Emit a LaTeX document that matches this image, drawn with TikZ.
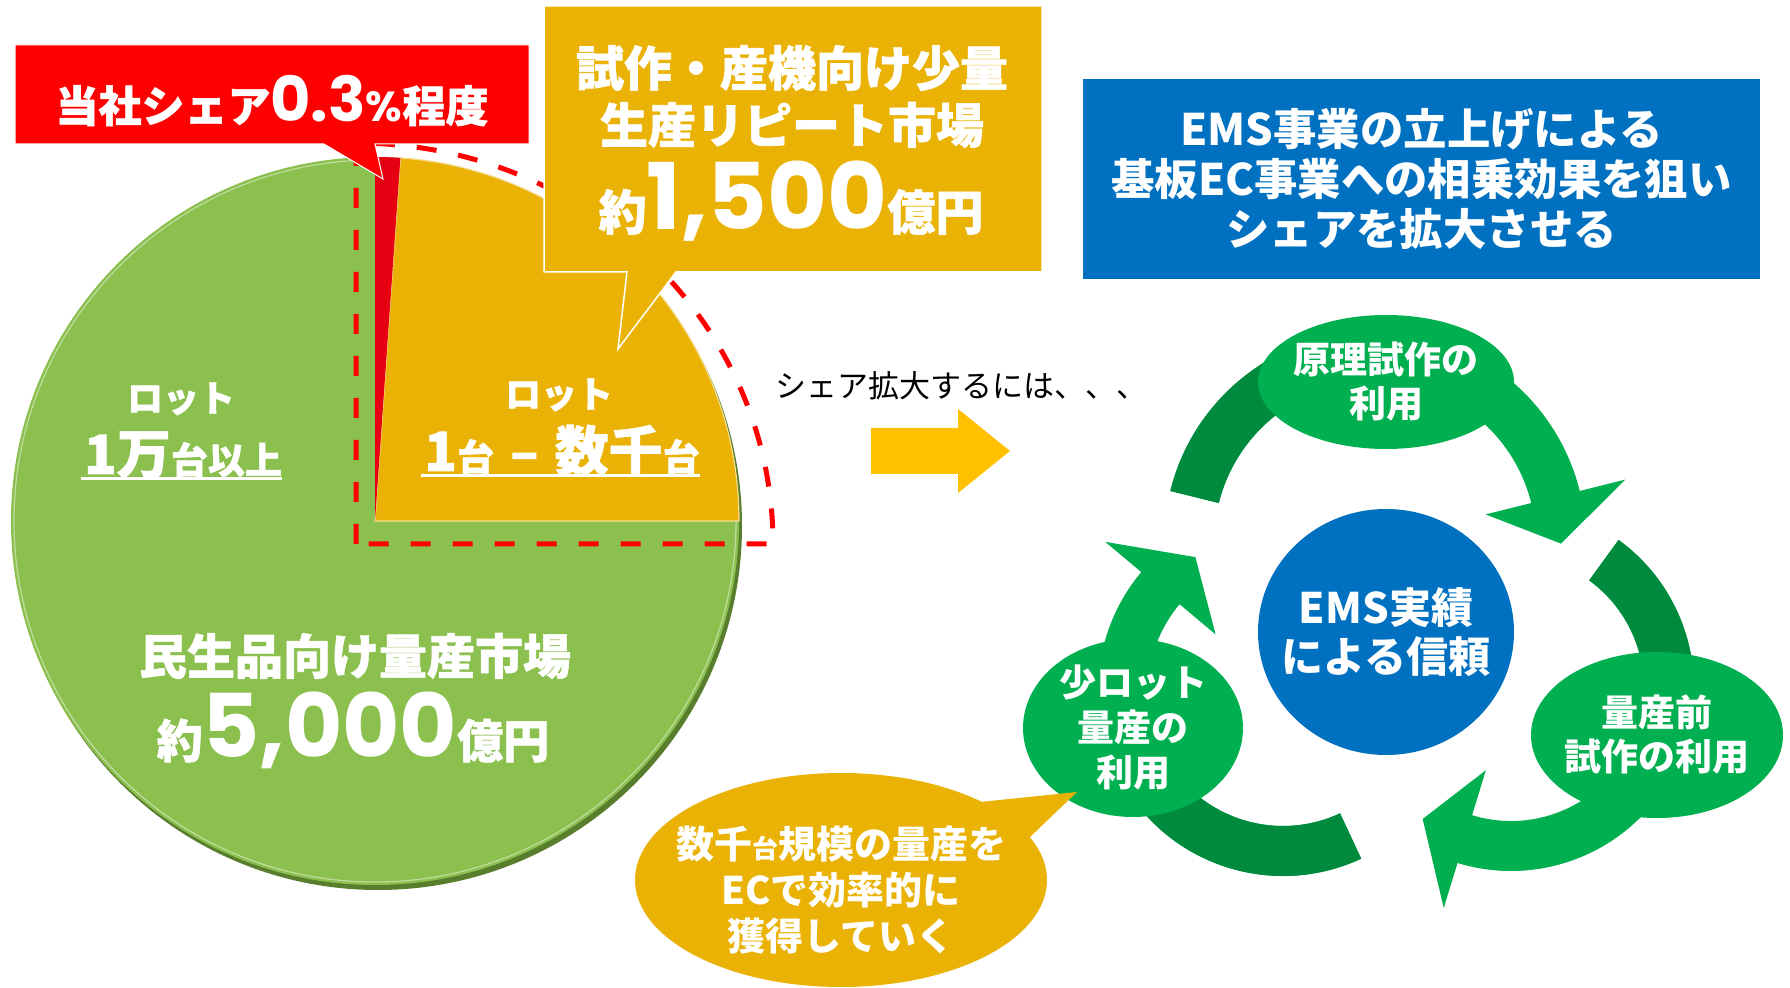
\documentclass[tikz,border=0pt]{standalone}
\usepackage{fontspec}
\setmainfont{Noto Sans CJK JP}
\newfontfamily\jpf{Noto Sans CJK JP}
\newfontfamily\jph{Noto Sans CJK JP}[BoldFeatures={FakeBold=1.2}]
\newfontfamily\popf{Poppins}
\usetikzlibrary{calc,shapes.geometric}
\definecolor{piegreen}{RGB}{139,192,78}
\definecolor{piedark}{RGB}{88,125,45}
\definecolor{piegold}{RGB}{234,178,4}
\definecolor{pieredc}{RGB}{230,0,18}
\definecolor{arrowyellow}{RGB}{255,192,0}
\definecolor{boxblue}{RGB}{0,112,192}
\definecolor{nodegreen}{RGB}{0,176,80}
\definecolor{darkgreen}{RGB}{0,138,62}
\definecolor{redc}{RGB}{255,0,0}
\newcommand{\setfs}[2]{\fontsize{#1}{#2}\selectfont}
\newcommand{\cycarrow}[6]{%
  \fill[nodegreen] ($(#1)+(#3:#2+25)$) arc[start angle=#3,end angle=#4,radius=#2+25]
    -- ($(#1)+(#4:#2+72)$) -- ($(#1)+(#5:#2)$) -- ($(#1)+(#4:#2-72)$)
    -- ($(#1)+(#4:#2-25)$) arc[start angle=#4,end angle=#3,radius=#2-25] -- cycle;
  \fill[darkgreen] ($(#1)+(#3:#2+25)$) arc[start angle=#3,end angle=#6,radius=#2+25]
    -- ($(#1)+(#6:#2-25)$) arc[start angle=#6,end angle=#3,radius=#2-25] -- cycle;
}
\begin{document}
\begin{tikzpicture}[x=0.5pt,y=-0.5pt,
  wtxt/.style={text=white, inner sep=0pt, align=center},
  heavy/.style={wtxt, font=\jph\bfseries\setfs{#1}{#1}},
  cyclenode/.style={ellipse, fill=nodegreen, inner sep=-14pt, text=white, align=center},
  dashsector/.style={draw=redc, line width=2.5pt, dash pattern=on 10pt off 11pt}
]
\useasboundingbox (0,0) rectangle (1790,988);
\fill[white] (0,0) rectangle (1790,988);

% ---------- pie chart ----------
\coordinate (pc) at (375,521);
\fill[piedark] ($(pc)+(3,5)$) circle[radius=364];
\fill[piegreen] (pc) circle[radius=364];
\draw[piegreen!55!white, line width=0.6pt] (pc) circle[radius=361];
\fill[piegold, draw=white!55!piegold, line width=0.6pt] (pc) -- ($(pc)+(-86:364)$)
   arc[start angle=-86,end angle=0,radius=364] -- cycle;
\fill[pieredc] (pc) -- ($(pc)+(-90:364)$) arc[start angle=-90,end angle=-86,radius=364] -- cycle;

% dashed outline of the target segment
\coordinate (dc) at (356,544);
\draw[dashsector] (dc) -- (356,143) arc[start angle=-90,end angle=0,x radius=417,y radius=401] -- cycle;

% pie labels
\node[heavy=18pt] (lotL) at (181,399) {ロット};
\node[heavy=18.5pt, anchor=base] (sizeL) at (183,474) {{\setfs{27pt}{27pt}1万}台以上};
\draw[white, line width=1.5pt] ($(sizeL.base west)+(-3,5)$) -- ($(sizeL.base east)+(0,5)$);
\node[heavy=18pt] (lotR) at (559,395) {ロット};
\node[heavy=18.5pt, anchor=base] (sizeR) at (562,471) {{\setfs{27pt}{27pt}1}台\hspace{8pt}{\setfs{26pt}{26pt}–}\hspace{8pt}{\setfs{27pt}{27pt}数千}台};
\draw[white, line width=1.5pt] ($(sizeR.base west)+(-3,5)$) -- ($(sizeR.base east)+(0,5)$);
\node[heavy=24pt] (mass) at (355,656) {民生品向け量産市場};
\node[heavy=23pt, anchor=base] (massval) at (353,758) {約{\popf\bfseries\setfs{44pt}{44pt}5,000}億円};

% ---------- red callout ----------
\fill[redc, draw=white, line width=0.5pt] (15,45) -- (529,45) -- (529,144) -- (375,144)
   -- (383,179) -- (324,144) -- (15,144) -- cycle;
\node[heavy=21.5pt, anchor=base] (share) at (272,122)
   {当社シェア{\popf\bfseries\setfs{31pt}{31pt}0.3}{\popf\bfseries\setfs{21pt}{21pt}\%}程度};

% ---------- gold callout ----------
\fill[piegold, draw=white, line width=0.75pt] (544,6) -- (1042,6) -- (1042,272) -- (676,272)
   -- (618,349) -- (627,272) -- (544,272) -- cycle;
\node[heavy=24pt] (gl1) at (792,68) {試作・産機向け少量};
\node[heavy=24pt] (gl2) at (792,125) {生産リピート市場};
\node[heavy=24pt, anchor=base] (gl3) at (791,230) {約{\popf\bfseries\setfs{46pt}{46pt}1,500}億円};

% ---------- middle text and arrow ----------
\node[anchor=base west, inner sep=0pt, text=black, font=\jpf\setfs{15.5pt}{18pt}] (howto) at (775,398)
   {シェア拡大するには、、、};
\fill[arrowyellow] (871,428) -- (958,428) -- (958,409) -- (1010,451) -- (958,493)
   -- (958,474) -- (871,474) -- cycle;

% ---------- blue goal box ----------
\node[fill=boxblue, minimum width=338.5pt, minimum height=100pt, inner sep=0pt, text=white,
      align=center, font=\jpf\bfseries\setfs{21.7pt}{25pt}] (goal) at (1421.5,179)
   {EMS事業の立上げによる\\基板EC事業への相乗効果を狙い\\シェアを拡大させる};

% ---------- cycle ----------
\coordinate (c1) at (1375,542);
\coordinate (c2) at (1511,688);
\coordinate (c3) at (1283,691);
\cycarrow{c1}{186}{-166}{-14}{0.5}{-90}
\cycarrow{c2}{158}{-54}{107}{124}{26.5}
\cycarrow{c3}{160}{65}{220}{236.8}{142.5}

\node[cyclenode, minimum width=128pt, minimum height=67pt, font=\jpf\bfseries\setfs{18.5pt}{22pt}]
   (proto) at (1386,382) {原理試作の\\利用};
\node[cyclenode, minimum width=126pt, minimum height=83pt, font=\jpf\bfseries\setfs{18.5pt}{22pt}]
   (premass) at (1657,735) {量産前\\試作の利用};
\node[cyclenode, minimum width=110pt, minimum height=89pt, font=\jpf\bfseries\setfs{18.5pt}{22.5pt}]
   (smalllot) at (1133,728) {少ロット\\量産の\\利用};
\node[ellipse, fill=boxblue, inner sep=-14pt, minimum width=128pt, minimum height=123pt,
      text=white, align=center, font=\jpf\bfseries\setfs{21pt}{24.5pt}]
   (trust) at (1386,632) {EMS実績\\による信頼};

% ---------- speech bubble ----------
\node[ellipse, fill=piegold, minimum width=206pt, minimum height=107pt, inner sep=0pt] (bubble) at (841,880) {};
\coordinate (btip) at (1077,792);
\fill[piegold] (980,802) -- (btip) -- (1030,837) -- (990,840) -- cycle;
\node[wtxt, font=\jpf\bfseries\setfs{19pt}{23pt}] (bubbletext) at (841,890)
   {数千{\setfs{13pt}{13pt}台}規模の量産を\\ECで効率的に\\獲得していく};
\end{tikzpicture}
\end{document}
